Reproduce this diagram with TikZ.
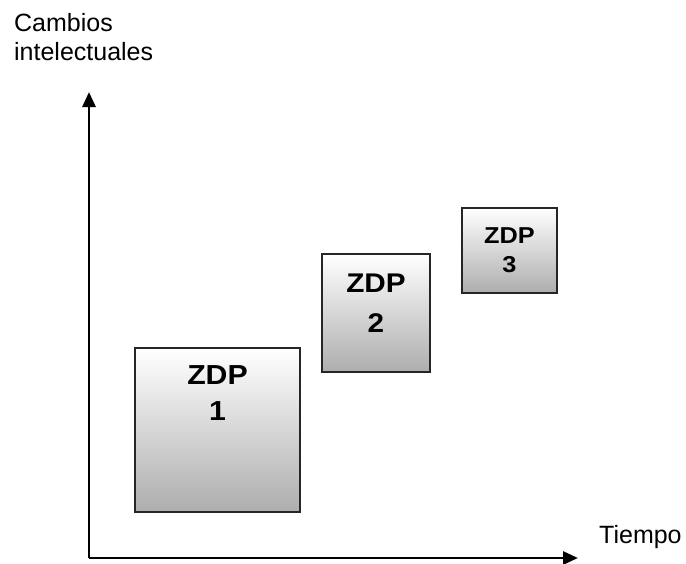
\documentclass[tikz,border=0pt]{standalone}
\usepackage{fontspec}
\setmainfont{Liberation Sans}
\newfontfamily\boxfont[FakeStretch=1.1]{Liberation Sans}
\usetikzlibrary{arrows.meta}
\tikzset{
  axis/.style={line width=2.8pt, -{Triangle[length=15pt,width=13pt]}},
  zbox/.style={draw=black!85, line width=1.4pt, top color=white, bottom color=black!32, inner sep=0pt},
  zlabel/.style={align=center, inner sep=0pt, anchor=base},
  axlabel/.style={font=\fontsize{25}{30}\selectfont, inner sep=0pt}
}
\begin{document}
\begin{tikzpicture}[x=1pt,y=-1pt]
\useasboundingbox (0,0) rectangle (686,563);
% boxes
\path[zbox] (135,348) rectangle (300,512);
\path[zbox] (322,254) rectangle (430,372);
\path[zbox] (462,208) rectangle (557,293);
% labels (anchor base = baseline of last line)
\node[zlabel, font=\boxfont\bfseries\fontsize{27.5}{36}\selectfont] (z1) at (217.5,420) {ZDP\\1};
\node[zlabel, font=\boxfont\bfseries\fontsize{27}{40}\selectfont] (z2) at (376,332) {ZDP\\2};
\node[zlabel, font=\boxfont\bfseries\fontsize{23}{29}\selectfont] (z3) at (509.5,272) {ZDP\\3};
% axes
\coordinate (o) at (89,558);
\coordinate (ytip) at (89,92);
\coordinate (xtip) at (578,558);
\draw[axis] (o) -- (ytip);
\draw[axis] (o) -- (xtip);
\node[axlabel, anchor=base west] (t) at (599,543) {Tiempo};
\node[axlabel, anchor=base west] (c1) at (14,31) {Cambios};
\node[axlabel, anchor=base west] (c2) at (14,60) {intelectuales};
\end{tikzpicture}
\end{document}
